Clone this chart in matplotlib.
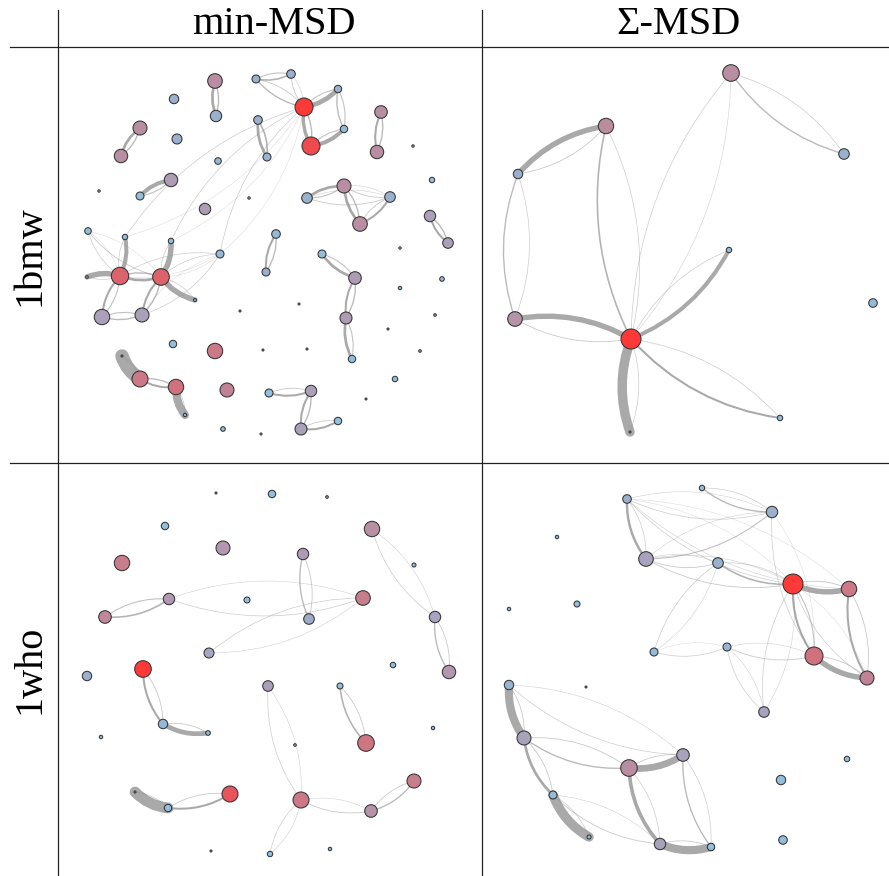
import matplotlib
matplotlib.use("Agg")
import matplotlib.pyplot as plt
from matplotlib.colors import LinearSegmentedColormap
from matplotlib.patches import FancyArrowPatch

# nodes: (x, y, radius_px, score) in panel pixel coords; edges: (i, j, width i->j, width j->i)
bmw_min_nodes = [
    (157, 34, 7.3, 0.6), (158, 69, 5.7, 0.2), (116, 52, 4.7, 0.2), (198, 32, 4.0, 0.2),
    (200, 73, 4.3, 0.2), (209, 110, 4.0, 0.15), (82, 81, 7.0, 0.6), (63, 109, 6.7, 0.6),
    (119, 92, 5.0, 0.2), (160, 114, 3.3, 0.1), (113, 133, 6.7, 0.45), (82, 149, 4.0, 0.05),
    (41, 144, 1.2, 0.0), (191, 151, 1.2, 0.0), (147, 162, 5.7, 0.45), (30, 184, 3.3, 0.05),
    (67, 190, 2.7, 0.05), (113, 194, 2.7, 0.05), (162, 207, 4.0, 0.1), (233, 27, 4.3, 0.2),
    (280, 42, 3.7, 0.2), (246, 60, 9.0, 1.0), (286, 82, 3.7, 0.1), (253, 99, 9.0, 0.93),
    (323, 65, 6.3, 0.6), (319, 105, 6.7, 0.6), (355, 99, 1.2, 0.0), (374, 133, 2.7, 0.05),
    (286, 139, 7.0, 0.6), (249, 151, 5.3, 0.2), (332, 150, 5.3, 0.2), (302, 177, 7.3, 0.6),
    (372, 169, 5.7, 0.4), (390, 196, 5.3, 0.4), (342, 201, 1.2, 0.0), (218, 187, 4.3, 0.1),
    (264, 207, 4.0, 0.05), (62, 229, 8.7, 0.85), (103, 230, 8.3, 0.85), (29, 230, 1.3, 0.0),
    (44, 270, 7.7, 0.4), (84, 268, 7.0, 0.4), (137, 253, 1.5, 0.05), (182, 264, 1.0, 0.0),
    (208, 225, 4.0, 0.2), (115, 297, 3.7, 0.05), (157, 304, 7.7, 0.75), (205, 303, 1.0, 0.0),
    (64, 309, 1.0, 0.0), (82, 332, 8.0, 0.75), (118, 340, 7.7, 0.8), (127, 368, 1.7, 0.05),
    (169, 343, 7.0, 0.68), (211, 346, 4.0, 0.05), (165, 382, 2.3, 0.05), (203, 387, 1.0, 0.0),
    (297, 231, 6.3, 0.45), (288, 271, 6.0, 0.45), (294, 312, 3.7, 0.05), (241, 257, 1.0, 0.0),
    (342, 241, 1.7, 0.05), (384, 232, 2.3, 0.05), (377, 268, 1.3, 0.05), (330, 282, 1.0, 0.0),
    (362, 304, 1.3, 0.05), (249, 302, 1.0, 0.0), (337, 332, 2.7, 0.05), (308, 352, 1.0, 0.0),
    (253, 344, 5.7, 0.4), (243, 382, 6.0, 0.4), (280, 374, 3.7, 0.05),
]
bmw_min_edges = [
    (0, 1, 2.0, 1.0), (6, 7, 2.0, 1.0), (10, 11, 3.0, 0.8), (4, 5, 2.0, 1.2),
    (3, 19, 1.2, 0.8), (3, 21, 1.0, 0.6), (19, 21, 0.6, 0.4), (21, 20, 3.5, 0.8),
    (20, 22, 1.0, 0.8), (21, 23, 2.5, 1.0), (23, 22, 3.0, 0.8), (21, 16, 0.5, 0.3),
    (21, 17, 0.5, 0.3), (21, 18, 0.5, 0.3), (24, 25, 1.5, 1.0), (28, 29, 2.0, 0.8),
    (28, 30, 0.6, 0.4), (29, 30, 0.6, 0.4), (28, 31, 2.0, 1.0), (31, 30, 1.5, 0.6),
    (32, 33, 1.5, 1.0), (35, 44, 1.5, 1.0), (36, 56, 2.0, 0.8), (56, 57, 1.5, 1.0),
    (57, 58, 2.0, 0.8), (53, 68, 1.5, 0.6), (68, 69, 1.5, 1.0), (69, 70, 1.5, 0.6),
    (37, 38, 2.0, 1.0), (37, 39, 4.0, 0.5), (37, 40, 1.5, 0.8), (38, 41, 1.5, 1.0),
    (40, 41, 1.0, 0.8), (38, 42, 4.0, 0.5), (37, 16, 3.0, 0.5), (38, 17, 4.0, 0.5),
    (15, 38, 0.6, 0.3), (15, 37, 0.5, 0.3), (18, 37, 0.5, 0.3), (18, 38, 0.5, 0.3),
    (41, 18, 0.5, 0.3), (48, 49, 10.0, 0.5), (49, 50, 1.5, 1.0), (50, 51, 6.0, 0.5),
]

bmw_sum_nodes = [
    (249, 26, 8.3, 0.6), (124, 79, 7.7, 0.62), (36, 127, 4.7, 0.2), (362, 107, 5.3, 0.2),
    (247, 203, 2.7, 0.05), (33, 272, 7.3, 0.55), (149, 292, 10.0, 1.0), (391, 256, 4.3, 0.1),
    (298, 371, 2.7, 0.05), (148, 385, 1.0, 0.0),
]
bmw_sum_edges = [
    (1, 2, 4.0, 0.6), (2, 5, 1.0, 0.5), (1, 6, 1.2, 0.5), (0, 6, 0.5, 0.4),
    (0, 3, 1.0, 0.5), (6, 4, 3.0, 0.5), (6, 5, 4.0, 0.6), (6, 9, 7.0, 0.5),
    (6, 8, 1.5, 0.5),
]

who_min_nodes = [
    (158, 30, 1.0, 0.0), (214, 31, 3.7, 0.05), (269, 34, 1.3, 0.05), (107, 63, 3.7, 0.05),
    (314, 66, 7.7, 0.58), (165, 85, 7.0, 0.5), (64, 100, 7.7, 0.72), (245, 91, 5.7, 0.45),
    (356, 102, 2.0, 0.05), (111, 136, 5.7, 0.48), (189, 137, 3.0, 0.05), (305, 135, 7.3, 0.72),
    (47, 154, 6.3, 0.65), (251, 156, 5.3, 0.25), (377, 154, 5.7, 0.35), (151, 190, 5.0, 0.3),
    (335, 202, 2.7, 0.05), (85, 206, 8.3, 1.0), (391, 209, 6.7, 0.5), (29, 213, 4.7, 0.2),
    (210, 223, 5.3, 0.42), (282, 223, 3.0, 0.05), (105, 261, 4.7, 0.12), (150, 270, 2.3, 0.05),
    (43, 274, 1.7, 0.05), (375, 265, 1.7, 0.05), (237, 282, 1.3, 0.05), (308, 280, 8.3, 0.78),
    (356, 318, 7.0, 0.72), (77, 329, 1.0, 0.0), (172, 331, 8.0, 0.9), (110, 345, 3.7, 0.05),
    (243, 337, 8.0, 0.75), (313, 348, 6.3, 0.55), (153, 388, 1.0, 0.0), (212, 391, 2.7, 0.05),
    (272, 386, 1.7, 0.05),
]
who_min_edges = [
    (12, 9, 1.2, 0.8), (9, 11, 0.5, 0.4), (7, 13, 1.0, 0.6), (11, 15, 0.5, 0.4),
    (4, 14, 0.5, 0.4), (14, 18, 1.0, 0.6), (17, 22, 1.5, 0.6), (22, 23, 3.5, 0.6),
    (29, 31, 8.0, 0.5), (31, 30, 1.5, 0.6), (20, 32, 0.5, 0.4), (21, 27, 1.2, 0.6),
    (32, 35, 0.5, 0.4), (32, 33, 0.6, 0.4), (33, 28, 1.0, 0.6),
]

who_sum_nodes = [
    (145, 36, 4.3, 0.2), (164, 96, 7.3, 0.38), (75, 74, 1.7, 0.05), (27, 146, 1.7, 0.05),
    (95, 141, 3.0, 0.05), (172, 189, 4.0, 0.08), (220, 25, 2.7, 0.05), (290, 49, 5.7, 0.2),
    (236, 100, 5.3, 0.2), (311, 121, 10.0, 1.0), (367, 126, 7.7, 0.75), (245, 184, 4.0, 0.15),
    (332, 193, 9.0, 0.8), (282, 249, 5.3, 0.38), (385, 215, 7.0, 0.68), (201, 292, 6.3, 0.38),
    (365, 296, 2.7, 0.05), (299, 317, 4.7, 0.05), (301, 377, 4.3, 0.08), (229, 384, 3.7, 0.05),
    (27, 222, 4.7, 0.15), (104, 224, 1.0, 0.0), (42, 275, 7.0, 0.38), (147, 305, 8.3, 0.6),
    (71, 332, 4.0, 0.08), (107, 374, 2.0, 0.05), (178, 381, 5.7, 0.38),
]
who_sum_edges = [
    (0, 1, 1.8, 0.5), (0, 7, 0.5, 0.4), (0, 9, 0.5, 0.3), (1, 8, 0.6, 0.4),
    (1, 9, 0.6, 0.4), (1, 7, 0.8, 0.4), (6, 7, 1.0, 0.5), (8, 9, 1.2, 0.5),
    (9, 10, 4.0, 0.6), (9, 12, 1.5, 0.8), (10, 14, 1.5, 0.6), (12, 14, 4.0, 0.6),
    (9, 13, 0.5, 0.4), (11, 13, 0.5, 0.4), (11, 12, 0.6, 0.4), (8, 5, 0.5, 0.4),
    (7, 12, 0.5, 0.3), (0, 10, 0.4, 0.3), (9, 14, 0.5, 0.3), (5, 11, 0.5, 0.3),
    (20, 22, 6.0, 0.6), (20, 15, 0.5, 0.4), (22, 23, 1.0, 0.6), (22, 24, 2.0, 0.6),
    (24, 25, 7.0, 0.5), (24, 26, 0.6, 0.4), (23, 15, 5.0, 0.6), (23, 26, 2.7, 0.5),
    (26, 19, 6.0, 0.6), (15, 19, 1.0, 0.5),
]

col_titles = ["min-MSD", "\u03a3-MSD"]
row_titles = ["1bmw", "1who"]

W, H = 889, 876
node_cmap = LinearSegmentedColormap.from_list(
    "msd", [(0.0, "#8ec4e2"), (0.2, "#9ab0cc"), (0.4, "#aaa0ba"),
            (0.6, "#b98ea2"), (0.8, "#d0727e"), (1.0, "#ff3838")])
PX = 72 / 100  # points per pixel
EDGE_SCALE = 1.35


def draw_network(ax, nodes, edges):
    for i, j, w_ij, w_ji in edges:
        for a, b, w in ((i, j, w_ij), (j, i, w_ji)):
            alpha = min(0.75, 0.3 + 0.3 * w)
            p = FancyArrowPatch(nodes[a][:2], nodes[b][:2], arrowstyle='-',
                                connectionstyle='arc3,rad=0.18', shrinkA=0, shrinkB=0,
                                lw=w * EDGE_SCALE * PX, color=(0.55, 0.55, 0.55, alpha),
                                capstyle='round', zorder=1)
            ax.add_patch(p)
    xs = [n[0] for n in nodes]
    ys = [n[1] for n in nodes]
    sizes = [(2 * n[2] * PX) ** 2 for n in nodes]
    ax.scatter(xs, ys, s=sizes, c=[n[3] for n in nodes], cmap=node_cmap, vmin=0, vmax=1,
               edgecolors='#333333', linewidths=0.75, zorder=3)


fig = plt.figure(figsize=(W / 100, H / 100), dpi=100)
bg = fig.add_axes([0, 0, 1, 1])
bg.set_xlim(0, W)
bg.set_ylim(H, 0)
bg.axis('off')

xs_grid = [58, 482, W]
ys_grid = [47, 463, H]
for x in xs_grid[:2]:
    bg.plot([x, x], [10, H], color='#222222', lw=0.9)
for y in ys_grid[:2]:
    bg.plot([10, W], [y, y], color='#222222', lw=0.9)

bg.text(274, 25, col_titles[0], ha='center', va='center', fontsize=29, family='Liberation Serif')
bg.text(678, 25, col_titles[1], ha='center', va='center', fontsize=29, family='Liberation Serif')
bg.text(30, 256, row_titles[0], ha='center', va='center', rotation=90, fontsize=29, family='Liberation Serif')
bg.text(30, 669, row_titles[1], ha='center', va='center', rotation=90, fontsize=29, family='Liberation Serif')

panels = [
    (bmw_min_nodes, bmw_min_edges, 0, 0), (bmw_sum_nodes, bmw_sum_edges, 1, 0),
    (who_min_nodes, who_min_edges, 0, 1), (who_sum_nodes, who_sum_edges, 1, 1),
]
for nodes, edges, c, r in panels:
    x0, x1 = xs_grid[c], xs_grid[c + 1]
    y0, y1 = ys_grid[r], ys_grid[r + 1]
    ax = fig.add_axes([x0 / W, 1 - y1 / H, (x1 - x0) / W, (y1 - y0) / H])
    ax.set_xlim(0, x1 - x0)
    ax.set_ylim(y1 - y0, 0)
    ax.axis('off')
    draw_network(ax, nodes, edges)

fig.savefig("out.png", dpi=100)
